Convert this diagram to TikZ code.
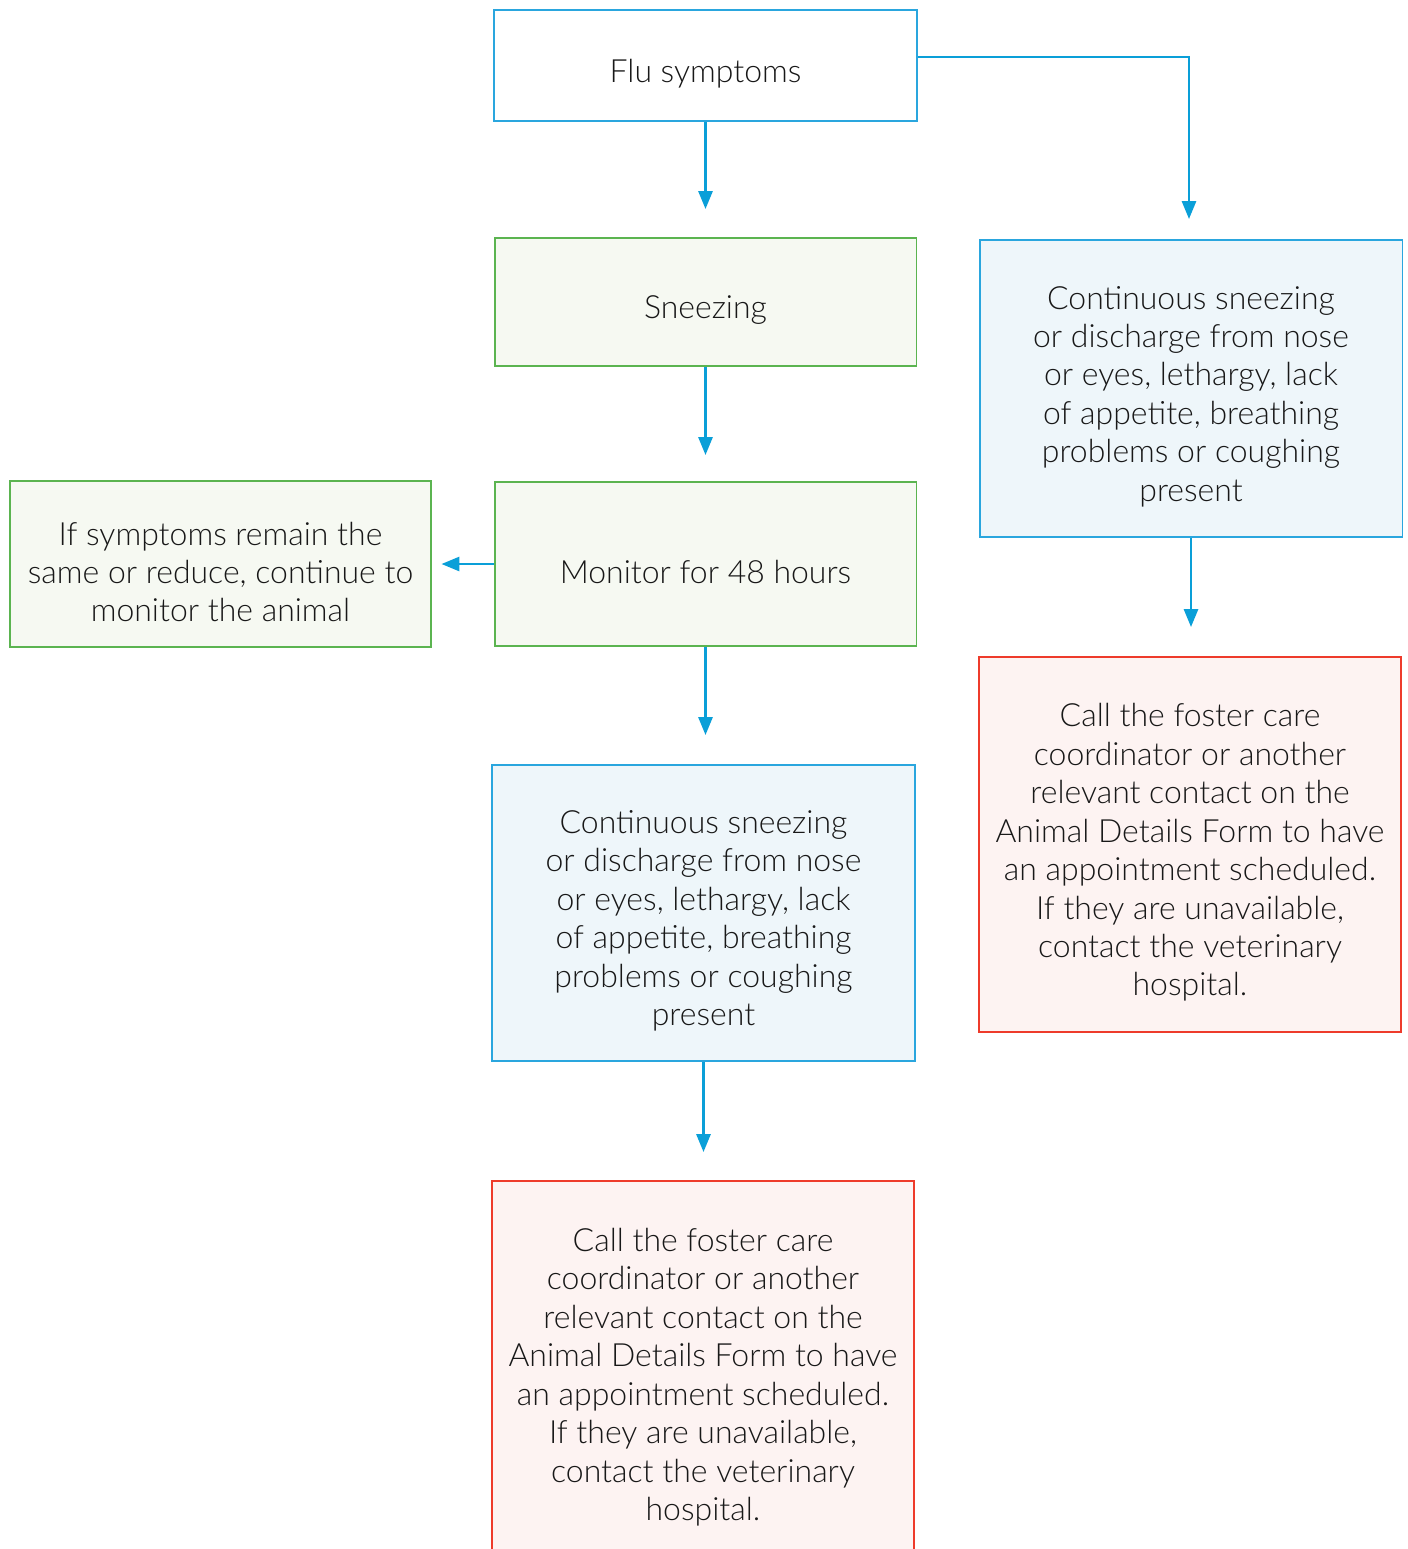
\documentclass[tikz,border=0pt]{standalone}
\usepackage{fontspec}
\setmainfont{Lato}[UprightFont={* Light}]
\usetikzlibrary{arrows.meta}
\definecolor{linkblue}{HTML}{0A9FD8}
\definecolor{boxblue}{HTML}{2AA6DE}
\definecolor{fillblue}{HTML}{EEF6FA}
\definecolor{boxgreen}{HTML}{5BB450}
\definecolor{fillgreen}{HTML}{F6F9F2}
\definecolor{boxred}{HTML}{EE3B2B}
\definecolor{fillred}{HTML}{FDF3F2}
\definecolor{inkgray}{HTML}{181818}
\begin{document}
\begin{tikzpicture}[x=0.02cm, y=-0.02cm,
    every node/.style={font=\fontsize{18.2}{21.9}\selectfont, text=inkgray, align=center, inner sep=0pt},
    every label/.style={yshift=-0.16cm},
    box/.style={draw, line width=1.1pt, minimum width=#1},
    startbox/.style={box=8.46cm, draw=boxblue, fill=white},
    greenbox/.style={box=8.44cm, draw=boxgreen, fill=fillgreen},
    bluebox/.style={box=8.46cm, draw=boxblue, fill=fillblue},
    redbox/.style={box=8.44cm, draw=boxred, fill=fillred},
    link/.style={draw=linkblue, line width=1.6pt, -{Triangle[length=0.36cm, width=0.28cm]}}]
  \useasboundingbox (0,0) rectangle (1408,1549);
  % middle column
  \node[startbox, minimum height=2.22cm, label={center:Flu symptoms}] (flu) at (705.5,65.5) {};
  \node[greenbox, minimum height=2.56cm, label={center:Sneezing}] (sneeze) at (705.5,302) {};
  \node[greenbox, minimum height=3.28cm, label={center:Monitor for 48 hours}] (monitor) at (705.5,564) {};
  \node[greenbox, minimum height=3.32cm, label={center:If symptoms remain the\\same or reduce, continue to\\monitor the animal}] (remain) at (220.5,564) {};
  \node[bluebox, minimum height=5.92cm, label={center:Continuous sneezing\\or discharge from nose\\or eyes, lethargy, lack\\of appetite, breathing\\problems or coughing\\present}] (contA) at (703.5,913) {};
  \node[redbox, minimum height=7.52cm, label={center:Call the foster care\\coordinator or another\\relevant contact on the\\Animal Details Form to have\\an appointment scheduled.\\If they are unavailable,\\contact the veterinary\\hospital.}] (callA) at (703,1369) {};
  % right column
  \node[bluebox, minimum height=5.94cm, label={center:Continuous sneezing\\or discharge from nose\\or eyes, lethargy, lack\\of appetite, breathing\\problems or coughing\\present}] (contB) at (1191,388.5) {};
  \node[redbox, minimum height=7.5cm, label={center:Call the foster care\\coordinator or another\\relevant contact on the\\Animal Details Form to have\\an appointment scheduled.\\If they are unavailable,\\contact the veterinary\\hospital.}] (callB) at (1190,844.5) {};
  % connectors
  \draw[link, shorten >=0.56cm] (flu) -- (sneeze);
  \draw[link, shorten >=0.52cm] (sneeze) -- (monitor);
  \draw[link, shorten >=0.18cm] (monitor) -- (remain);
  \draw[link, shorten >=0.58cm] (monitor.south) -- (monitor.south |- contA.north);
  \draw[link, shorten >=0.56cm] (contA) -- (contA.south |- callA.north);
  \draw[link, shorten >=0.4cm] ([yshift=0.17cm]flu.east) -| ([xshift=-0.04cm]contB.north);
  \draw[link, shorten >=0.58cm] (contB) -- (contB.south |- callB.north);
\end{tikzpicture}
\end{document}
